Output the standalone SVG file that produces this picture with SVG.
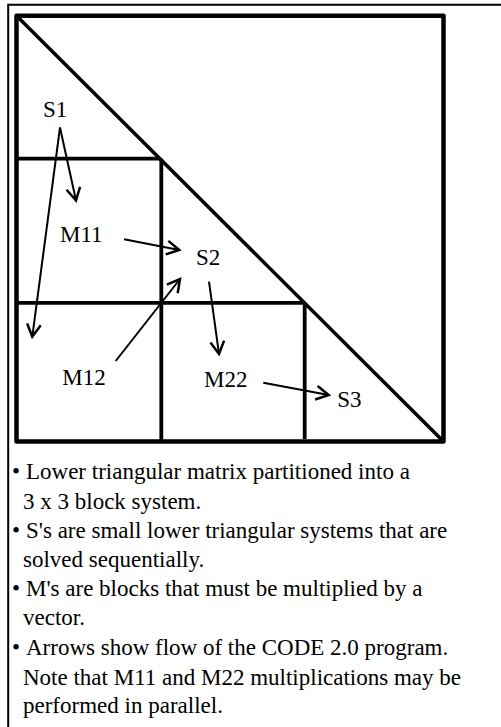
<svg xmlns="http://www.w3.org/2000/svg" width="501" height="727" viewBox="0 0 501 727">
<style>
.frame{fill:none;stroke:#000;stroke-width:2}
.grid{fill:none;stroke:#000;stroke-linejoin:round;stroke-linecap:butt}
.lbl{font-size:23px;fill:#000}
.txt{font-size:23px;fill:#000}
.arr{fill:none;stroke:#000;stroke-width:2;marker-end:url(#ah)}
</style>
<defs>
<marker id="ah" markerUnits="userSpaceOnUse" markerWidth="20" markerHeight="20" viewBox="-12 -8 14 16" refX="0" refY="0" orient="auto" overflow="visible">
<path d="M-10,-5.5 L0,0 L-10,5.5" fill="none" stroke="#000" stroke-width="2" stroke-linejoin="miter"/>
</marker>
</defs>
<rect width="501" height="727" fill="#fff"/>
<path class="frame" d="M8.2,727 L8.2,4.8 L501,4.8"/>
<g id="matrix">
<rect class="grid" x="16.5" y="15.8" width="427" height="425.7" stroke-width="4.5"/>
<line class="grid" x1="16.5" y1="15.8" x2="443.5" y2="441.5" stroke-width="3.5"/>
<line class="grid" x1="16.5" y1="158.7" x2="160" y2="158.7" stroke-width="3.8"/>
<line class="grid" x1="161.3" y1="158.7" x2="161.3" y2="441.5" stroke-width="3.8"/>
<line class="grid" x1="16.5" y1="302.8" x2="304" y2="302.8" stroke-width="3.8"/>
<line class="grid" x1="304.7" y1="302.8" x2="304.7" y2="439" stroke-width="3.8"/>
</g>
<g font-family="'Liberation Serif', 'Times New Roman', serif">
<g id="S1"><text class="lbl" x="43" y="116.7">S1</text></g>
<g id="M11"><text class="lbl" x="60" y="241.5">M11</text></g>
<g id="S2"><text class="lbl" x="196" y="265">S2</text></g>
<g id="M12"><text class="lbl" x="62.3" y="385">M12</text></g>
<g id="M22"><text class="lbl" x="204" y="387.3">M22</text></g>
<g id="S3"><text class="lbl" x="337.3" y="406.7">S3</text></g>
</g>
<g id="connectors">
<line class="arr" x1="60" y1="127.5" x2="76" y2="200.5"/>
<line class="arr" x1="60" y1="127.5" x2="32.3" y2="336.7"/>
<line class="arr" x1="124" y1="239.3" x2="179.3" y2="250"/>
<line class="arr" x1="115.7" y1="361" x2="180" y2="279"/>
<line class="arr" x1="209" y1="281.7" x2="219" y2="354"/>
<line class="arr" x1="263.3" y1="382.7" x2="328.7" y2="395"/>
</g>
<g id="notes" font-family="'Liberation Serif', 'Times New Roman', serif">
<text class="txt" x="12" y="479.3">•</text>
<text class="txt" x="26" y="479.3">Lower triangular matrix partitioned into a</text>
<text class="txt" x="23" y="509">3 x 3 block system.</text>
<text class="txt" x="12" y="538.3">•</text>
<text class="txt" x="26" y="538.3">S's are small lower triangular systems that are</text>
<text class="txt" x="23" y="566.7">solved sequentially.</text>
<text class="txt" x="12" y="595.7">•</text>
<text class="txt" x="26" y="595.7">M's are blocks that must be multiplied by a</text>
<text class="txt" x="23" y="625">vector.</text>
<text class="txt" x="12" y="655">•</text>
<text class="txt" x="26" y="655">Arrows show flow of the CODE 2.0 program.</text>
<text class="txt" x="23" y="685">Note that M11 and M22 multiplications may be</text>
<text class="txt" x="23" y="713">performed in parallel.</text>
</g>
</svg>
